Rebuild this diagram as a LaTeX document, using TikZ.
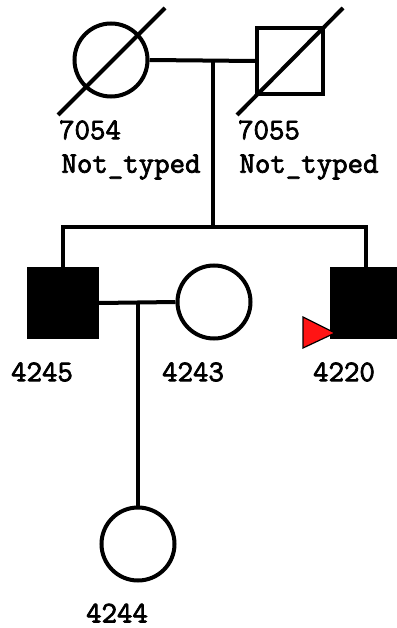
\documentclass[tikz,border=0pt]{standalone}
\usepackage{fontspec}
\newfontfamily\pedfont{Latin Modern Mono}[FakeBold=2.5]
\usepackage{tikz}
\usetikzlibrary{positioning}

\begin{document}
\begin{tikzpicture}[
    x=1pt, y=-1pt,
    line width=4pt,
    every node/.style={font=\fontsize{30}{34}\pedfont},
    female/.style={circle, draw, minimum size=73pt, inner sep=0pt},
    male/.style={rectangle, draw, minimum size=68pt, inner sep=0pt},
    affected/.style={fill=black},
    idlab/.style={anchor=center, inner sep=0pt}
]
\useasboundingbox (0,0) rectangle (396,628);

% --- Generation I
\node[female] (f7054) at (111,60) {};
\node[male, minimum size=66pt] (m7055) at (290,61) {};
\draw ([shift={(-53,55)}]f7054.center) -- ([shift={(54,-52)}]f7054.center);
\draw ([shift={(-53,54)}]m7055.center) -- ([shift={(53,-53)}]m7055.center);
\node[idlab] (l7054) at (90,130) {7054};
\node[idlab] (t7054) at (131,167) {Not\_typed};
\node[idlab] (l7055) at (269,130) {7055};
\node[idlab] (t7055) at (309,167) {Not\_typed};

% marriage and descent
\coordinate (mar1) at (213,61);
\coordinate (sib) at (213,227);
\draw (f7054.east) -- (m7055.west);
\draw (mar1) -- (sib);

% --- Generation II
\node[male, affected] (m4245) at (63,303) {};
\node[female] (f4243) at (214,302) {};
\node[male, affected] (m4220) at (366,303) {};
\draw (m4245.north) |- (sib) -| (m4220.north);
\node[idlab] (l4245) at (42,372) {4245};
\node[idlab] (l4243) at (193,372) {4243};
\node[idlab] (l4220) at (344,372) {4220};

% proband arrow
\coordinate (pa) at (303,317);
\coordinate (pb) at (303,348);
\coordinate (pc) at (335,333);
\filldraw[fill=red!92!white, draw=black, line width=1.2pt] (pa) -- (pc) -- (pb) -- cycle;

% --- Generation III
\coordinate (mar2) at (138,303);
\node[female] (f4244) at (138,544) {};
\draw (m4245.east) -- (f4243.west);
\draw (mar2) -- (f4244.north);
\node[idlab] (l4244) at (117,613) {4244};
\end{tikzpicture}
\end{document}
